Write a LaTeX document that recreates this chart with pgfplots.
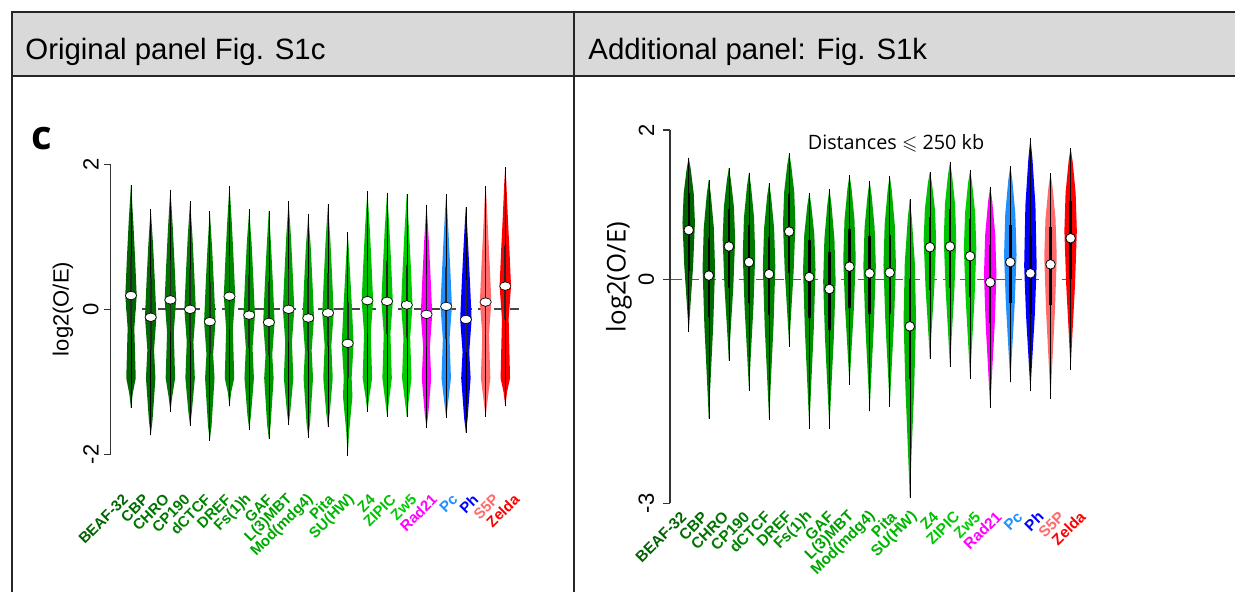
\documentclass[border=0pt]{standalone}
\usepackage{pgfplots}
\pgfplotsset{compat=1.18}
\usepackage{pgfplotstable}
\usepackage{fontspec}
\usepackage{amssymb}
\setmainfont{Liberation Sans}
\newfontfamily\opensans{Open Sans}

\definecolor{g0}{HTML}{006400}
\definecolor{g1}{HTML}{006B00}
\definecolor{g2}{HTML}{007300}
\definecolor{g3}{HTML}{007A00}
\definecolor{g4}{HTML}{008200}
\definecolor{g5}{HTML}{008900}
\definecolor{g6}{HTML}{009100}
\definecolor{g7}{HTML}{009800}
\definecolor{g8}{HTML}{00A000}
\definecolor{g9}{HTML}{00A700}
\definecolor{g10}{HTML}{00AF00}
\definecolor{g11}{HTML}{00B600}
\definecolor{g12}{HTML}{00BE00}
\definecolor{g13}{HTML}{00C500}
\definecolor{g14}{HTML}{00CD00}
\definecolor{rad}{HTML}{FF00FF}
\definecolor{pcb}{HTML}{1E90FF}
\definecolor{phb}{HTML}{0000FF}
\definecolor{s5p}{HTML}{FF6A6A}
\definecolor{zel}{HTML}{FF0000}
\definecolor{hdr}{HTML}{D9D9D9}

% stats per violin: position, top, bottom, median, quartiles
\pgfplotstableread{
x T B M q1 q3
0 1.71 -1.36 0.19 -0.26 0.74
1 1.39 -1.74 -0.11 -0.56 0.44
2 1.65 -1.41 0.13 -0.32 0.68
3 1.49 -1.61 0.00 -0.45 0.55
4 1.35 -1.81 -0.17 -0.62 0.38
5 1.70 -1.34 0.18 -0.27 0.73
6 1.38 -1.66 -0.08 -0.53 0.47
7 1.36 -1.79 -0.18 -0.63 0.37
8 1.49 -1.60 0.00 -0.45 0.55
9 1.32 -1.77 -0.12 -0.57 0.43
10 1.45 -1.63 -0.05 -0.50 0.50
11 1.06 -2.03 -0.47 -0.95 0.10
12 1.63 -1.42 0.12 -0.33 0.67
13 1.61 -1.48 0.11 -0.34 0.66
14 1.59 -1.48 0.06 -0.39 0.61
15 1.44 -1.64 -0.07 -0.52 0.48
16 1.59 -1.50 0.04 -0.41 0.59
17 1.41 -1.70 -0.14 -0.59 0.41
18 1.70 -1.48 0.10 -0.35 0.65
19 1.96 -1.34 0.32 -0.13 0.87
}\statc

\pgfplotstableread{
x T B M q1 q3
0 1.63 -0.71 0.66 0.11 1.16
1 1.33 -1.87 0.05 -0.50 0.55
2 1.49 -1.09 0.44 -0.11 0.94
3 1.43 -1.49 0.23 -0.32 0.73
4 1.29 -1.89 0.07 -0.48 0.57
5 1.69 -0.90 0.64 0.09 1.14
6 1.16 -2.00 0.03 -0.52 0.53
7 1.21 -2.00 -0.13 -0.68 0.37
8 1.40 -1.41 0.17 -0.38 0.67
9 1.32 -1.77 0.08 -0.47 0.58
10 1.39 -1.71 0.09 -0.46 0.59
11 1.07 -2.93 -0.63 -1.33 0.01
12 1.44 -1.07 0.43 -0.14 0.84
13 1.57 -1.18 0.44 -0.11 0.94
14 1.46 -1.33 0.31 -0.24 0.81
15 1.24 -1.73 -0.04 -0.59 0.46
16 1.52 -1.38 0.23 -0.32 0.73
17 1.89 -1.50 0.08 -0.47 0.58
18 1.42 -1.60 0.20 -0.35 0.70
19 1.76 -1.21 0.55 0.00 1.05
}\statk

% half-width profile (y w), mirrored around the category position
\newcommand{\violin}[3]{%
  \addplot[fill=#2, draw=none] table[row sep=\\, x expr={#1+\thisrow{w}}, y=y] {y w\\#3\\} -- cycle;
  \addplot[fill=#2, draw=none] table[row sep=\\, x expr={#1-\thisrow{w}}, y=y] {y w\\#3\\} -- cycle;
}

\newcommand{\labs}{\textcolor{g0}{BEAF-32},\textcolor{g1}{CBP},\textcolor{g2}{CHRO},\textcolor{g3}{CP190},\textcolor{g4}{dCTCF},\textcolor{g5}{DREF},\textcolor{g6}{Fs(1)h},\textcolor{g7}{GAF},\textcolor{g8}{L(3)MBT},\textcolor{g9}{Mod(mdg4)},\textcolor{g10}{Pita},\textcolor{g11}{SU(HW)},\textcolor{g12}{Z4},\textcolor{g13}{ZIPIC},\textcolor{g14}{Zw5},\textcolor{rad}{Rad21},\textcolor{pcb}{Pc},\textcolor{phb}{Ph},\textcolor{s5p}{S5P},\textcolor{zel}{Zelda}}

\pgfplotsset{vio/.style={scale only axis, anchor=south west, clip=false,
  axis x line*=bottom, axis y line*=left, axis line style={-, black!80, line width=0.6pt},
  x axis line style={draw=none}, xtick style={draw=none},
  xticklabels/.expand once={\labs},
  ytick align=outside, major tick length=3.3pt, ytick style={black!80, line width=0.6pt},
  /pgf/number format/assume math mode=true}}

\begin{document}
\begin{tikzpicture}
\useasboundingbox (0,0) rectangle (617.5pt,296pt);
\begin{scope}[x=0.5pt, y=-0.5pt, yshift=296pt]
  \fill[hdr] (12,12) rectangle (1236,76);
  \node[anchor=base west, inner sep=0, font=\fontsize{14.7}{17}\selectfont] at (25,59.5) {Original panel Fig. S1c};
  \node[anchor=base west, inner sep=0, font=\fontsize{14.7}{17}\selectfont] at (588,59.5) {Additional panel: Fig. S1k};
  \node[anchor=base west, inner sep=0, font=\opensans\bfseries\fontsize{20}{24}\selectfont] at (31,150) {c};
  \node[rotate=90, inner sep=0, font=\fontsize{11}{13}\selectfont] at (63,309) {log2(O/E)};
  \node[rotate=90, inner sep=0, font=\opensans\fontsize{12.9}{15}\selectfont] at (619,277) {log2(O/E)};
  \node[inner sep=0, font=\opensans\fontsize{9.9}{12}\selectfont] at (896,143) {Distances $\leqslant$ 250 kb};
  \draw[line width=1pt, black!85] (12,12) -- (1236,12);
  \draw[line width=1pt, black!85] (12,76) -- (1236,76);
  \draw[line width=1pt, black!85] (12,11.5) -- (12,593);
  \draw[line width=1pt, black!85] (574,11.5) -- (574,593);
\end{scope}

% ---- panel c ----
\begin{axis}[vio, at={(55.35pt,68.85pt)}, width=207.15pt, height=145pt,
  xmin=-1.03, xmax=20, ymin=-2, ymax=2, ytick={-2,0,2},
  xtick={-0.27,0.77,1.82,2.86,3.91,4.95,6.00,7.05,8.09,9.14,10.18,11.23,12.27,13.32,14.37,15.41,16.46,17.50,18.55,19.59},
  yticklabel style={font=\fontsize{11}{13}\selectfont, inner sep=0pt, xshift=-2.5pt, rotate=90, anchor=south},
  xticklabel style={font=\bfseries\fontsize{7.5}{9}\selectfont, inner sep=0pt, yshift=-21.2pt, rotate=45, anchor=east}]
\addplot[black!72, line width=0.8pt, dash pattern=on 5pt off 3pt] coordinates {(-0.25,0) (19.7,0)};
\violin{0}{g0}{-1.36 0\\ -1.16 0.09\\ -0.95 0.24\\ -0.26 0.17\\ 0.19 0.29\\ 0.69 0.21\\ 1.19 0.12\\ 1.51 0.05\\ 1.71 0}
\violin{1}{g1}{-1.74 0\\ -1.54 0.09\\ -0.95 0.24\\ -0.56 0.17\\ -0.11 0.29\\ 0.39 0.21\\ 0.89 0.12\\ 1.19 0.05\\ 1.39 0}
\violin{2}{g2}{-1.41 0\\ -1.21 0.09\\ -0.95 0.24\\ -0.32 0.17\\ 0.13 0.29\\ 0.63 0.21\\ 1.13 0.12\\ 1.45 0.05\\ 1.65 0}
\violin{3}{g3}{-1.61 0\\ -1.41 0.09\\ -0.95 0.24\\ -0.45 0.17\\ 0 0.29\\ 0.5 0.21\\ 1.0 0.12\\ 1.29 0.05\\ 1.49 0}
\violin{4}{g4}{-1.81 0\\ -1.61 0.09\\ -0.95 0.24\\ -0.62 0.17\\ -0.17 0.29\\ 0.33 0.21\\ 0.83 0.12\\ 1.15 0.05\\ 1.35 0}
\violin{5}{g5}{-1.34 0\\ -1.14 0.09\\ -0.95 0.24\\ -0.27 0.17\\ 0.18 0.29\\ 0.68 0.21\\ 1.18 0.12\\ 1.50 0.05\\ 1.70 0}
\violin{6}{g6}{-1.66 0\\ -1.46 0.09\\ -0.95 0.24\\ -0.53 0.17\\ -0.08 0.29\\ 0.42 0.21\\ 0.92 0.12\\ 1.18 0.05\\ 1.38 0}
\violin{7}{g7}{-1.79 0\\ -1.59 0.09\\ -0.95 0.24\\ -0.63 0.17\\ -0.18 0.29\\ 0.32 0.21\\ 0.82 0.12\\ 1.16 0.05\\ 1.36 0}
\violin{8}{g8}{-1.60 0\\ -1.40 0.09\\ -0.95 0.24\\ -0.45 0.17\\ 0 0.29\\ 0.5 0.21\\ 1.0 0.12\\ 1.29 0.05\\ 1.49 0}
\violin{9}{g9}{-1.77 0\\ -1.57 0.09\\ -0.95 0.24\\ -0.57 0.17\\ -0.12 0.29\\ 0.38 0.21\\ 0.88 0.12\\ 1.12 0.05\\ 1.32 0}
\violin{10}{g10}{-1.63 0\\ -1.43 0.09\\ -0.95 0.24\\ -0.50 0.17\\ -0.05 0.29\\ 0.45 0.21\\ 0.95 0.12\\ 1.25 0.05\\ 1.45 0}
\violin{11}{g11}{-2.03 0\\ -1.70 0.07\\ -1.20 0.24\\ -0.95 0.20\\ -0.47 0.30\\ 0.0 0.22\\ 0.5 0.12\\ 0.86 0.05\\ 1.06 0}
\violin{12}{g12}{-1.42 0\\ -1.22 0.09\\ -0.95 0.24\\ -0.33 0.17\\ 0.12 0.29\\ 0.62 0.21\\ 1.12 0.12\\ 1.43 0.05\\ 1.63 0}
\violin{13}{g13}{-1.48 0\\ -1.28 0.09\\ -0.95 0.24\\ -0.34 0.17\\ 0.11 0.29\\ 0.61 0.21\\ 1.11 0.12\\ 1.41 0.05\\ 1.61 0}
\violin{14}{g14}{-1.48 0\\ -1.28 0.09\\ -0.95 0.24\\ -0.39 0.17\\ 0.06 0.29\\ 0.56 0.21\\ 1.06 0.12\\ 1.39 0.05\\ 1.59 0}
\violin{15}{rad}{-1.64 0\\ -1.44 0.09\\ -0.95 0.24\\ -0.52 0.17\\ -0.07 0.29\\ 0.43 0.21\\ 0.93 0.12\\ 1.24 0.05\\ 1.44 0}
\violin{16}{pcb}{-1.50 0\\ -1.30 0.09\\ -0.95 0.24\\ -0.41 0.17\\ 0.04 0.29\\ 0.54 0.21\\ 1.04 0.12\\ 1.39 0.05\\ 1.59 0}
\violin{17}{phb}{-1.70 0\\ -1.50 0.09\\ -0.95 0.24\\ -0.59 0.17\\ -0.14 0.29\\ 0.36 0.21\\ 0.86 0.12\\ 1.21 0.05\\ 1.41 0}
\violin{18}{s5p}{-1.48 0\\ -1.28 0.09\\ -0.95 0.24\\ -0.35 0.17\\ 0.10 0.29\\ 0.60 0.21\\ 1.10 0.12\\ 1.50 0.05\\ 1.70 0}
\violin{19}{zel}{-1.34 0\\ -1.14 0.09\\ -0.95 0.24\\ -0.13 0.17\\ 0.32 0.29\\ 0.82 0.21\\ 1.32 0.12\\ 1.76 0.05\\ 1.96 0}
\addplot[black, only marks, mark=none, error bars/.cd, y dir=both, y explicit, error mark=none, error bar style={line width=0.3pt}]
  table[x=x, y=M, y error plus expr=\thisrow{T}-\thisrow{M}, y error minus expr=\thisrow{M}-\thisrow{B}] {\statc};
\addplot[black, only marks, mark=none, error bars/.cd, y dir=both, y explicit, error mark=none, error bar style={line width=0.85pt, black!85}]
  table[x=x, y=M, y error plus expr=\thisrow{q3}-\thisrow{M}, y error minus expr=\thisrow{M}-\thisrow{q1}] {\statc};
\addplot[only marks, mark=*, mark size=2.1pt, mark options={xscale=1.35, fill=white, draw=black, line width=0.3pt}]
  table[x=x, y=M] {\statc};
\end{axis}

% ---- panel k ----
\begin{axis}[vio, at={(335pt,44.35pt)}, width=210.35pt, height=186.65pt,
  xmin=-0.93, xmax=20, ymin=-3, ymax=2, ytick={-3,0,2},
  xtick={-0.24,0.81,1.85,2.90,3.94,4.99,6.03,7.08,8.12,9.17,10.21,11.26,12.30,13.35,14.39,15.44,16.48,17.53,18.57,19.62},
  yticklabel style={font=\fontsize{11}{13}\selectfont, inner sep=0pt, xshift=-4.5pt, rotate=90, anchor=south},
  xticklabel style={font=\bfseries\fontsize{7.7}{9}\selectfont, inner sep=0pt, yshift=-5.35pt, rotate=45, anchor=east}]
\addplot[black!65, line width=0.75pt, dash pattern=on 5.5pt off 3pt] coordinates {(-0.9,0) (19.25,0)};
\violin{0}{g0}{-0.71 0\\ -0.30 0.10\\ 0.18 0.22\\ 0.76 0.31\\ 1.15 0.25\\ 1.48 0.10\\ 1.63 0}
\violin{1}{g1}{-1.87 0\\ -1.29 0.10\\ -0.62 0.22\\ 0.15 0.31\\ 0.69 0.25\\ 1.14 0.10\\ 1.33 0}
\violin{2}{g2}{-1.09 0\\ -0.63 0.10\\ -0.10 0.22\\ 0.54 0.31\\ 0.97 0.25\\ 1.33 0.10\\ 1.49 0}
\violin{3}{g3}{-1.49 0\\ -0.97 0.10\\ -0.37 0.22\\ 0.33 0.31\\ 0.83 0.25\\ 1.25 0.10\\ 1.43 0}
\violin{4}{g4}{-1.89 0\\ -1.30 0.10\\ -0.62 0.22\\ 0.17 0.31\\ 0.68 0.25\\ 1.11 0.10\\ 1.29 0}
\violin{5}{g5}{-0.90 0\\ -0.44 0.10\\ 0.10 0.22\\ 0.74 0.31\\ 1.17 0.25\\ 1.53 0.10\\ 1.69 0}
\violin{6}{g6}{-2.00 0\\ -1.39 0.10\\ -0.68 0.22\\ 0.13 0.31\\ 0.60 0.25\\ 0.99 0.10\\ 1.16 0}
\violin{7}{g7}{-2.00 0\\ -1.44 0.10\\ -0.78 0.22\\ -0.03 0.31\\ 0.54 0.25\\ 1.01 0.10\\ 1.21 0}
\violin{8}{g8}{-1.41 0\\ -0.94 0.10\\ -0.38 0.22\\ 0.27 0.31\\ 0.79 0.25\\ 1.22 0.10\\ 1.40 0}
\violin{9}{g9}{-1.77 0\\ -1.22 0.10\\ -0.57 0.22\\ 0.18 0.31\\ 0.70 0.25\\ 1.13 0.10\\ 1.32 0}
\violin{10}{g10}{-1.71 0\\ -1.17 0.10\\ -0.54 0.22\\ 0.19 0.31\\ 0.74 0.25\\ 1.20 0.10\\ 1.39 0}
\violin{11}{g11}{-2.93 0\\ -2.24 0.10\\ -1.44 0.22\\ -0.53 0.31\\ 0.22 0.25\\ 0.82 0.10\\ 1.07 0}
\violin{12}{g12}{-1.07 0\\ -0.62 0.10\\ -0.10 0.22\\ 0.53 0.31\\ 0.94 0.25\\ 1.29 0.10\\ 1.44 0}
\violin{13}{g13}{-1.18 0\\ -0.69 0.10\\ -0.13 0.22\\ 0.54 0.31\\ 1.01 0.25\\ 1.40 0.10\\ 1.57 0}
\violin{14}{g14}{-1.33 0\\ -0.84 0.10\\ -0.26 0.22\\ 0.41 0.31\\ 0.89 0.25\\ 1.29 0.10\\ 1.46 0}
\violin{15}{rad}{-1.73 0\\ -1.22 0.10\\ -0.63 0.22\\ 0.06 0.31\\ 0.60 0.25\\ 1.05 0.10\\ 1.24 0}
\violin{16}{pcb}{-1.38 0\\ -0.90 0.10\\ -0.33 0.22\\ 0.33 0.31\\ 0.88 0.25\\ 1.33 0.10\\ 1.52 0}
\violin{17}{phb}{-1.50 0\\ -1.03 0.10\\ -0.47 0.22\\ 0.18 0.31\\ 0.99 0.25\\ 1.62 0.10\\ 1.89 0}
\violin{18}{s5p}{-1.60 0\\ -1.06 0.10\\ -0.43 0.22\\ 0.30 0.31\\ 0.81 0.25\\ 1.24 0.10\\ 1.42 0}
\violin{19}{zel}{-1.21 0\\ -0.68 0.10\\ -0.07 0.22\\ 0.65 0.31\\ 1.16 0.25\\ 1.58 0.10\\ 1.76 0}
\addplot[black, only marks, mark=none, error bars/.cd, y dir=both, y explicit, error mark=none, error bar style={line width=0.3pt}]
  table[x=x, y=M, y error plus expr=\thisrow{T}-\thisrow{M}, y error minus expr=\thisrow{M}-\thisrow{B}] {\statk};
\addplot[black, only marks, mark=none, error bars/.cd, y dir=both, y explicit, error mark=none, error bar style={line width=1.2pt}]
  table[x=x, y=M, y error plus expr=\thisrow{q3}-\thisrow{M}, y error minus expr=\thisrow{M}-\thisrow{q1}] {\statk};
\addplot[only marks, mark=*, mark size=2.4pt, mark options={fill=white, draw=black, line width=0.4pt}]
  table[x=x, y=M] {\statk};
\end{axis}
\end{tikzpicture}
\end{document}
